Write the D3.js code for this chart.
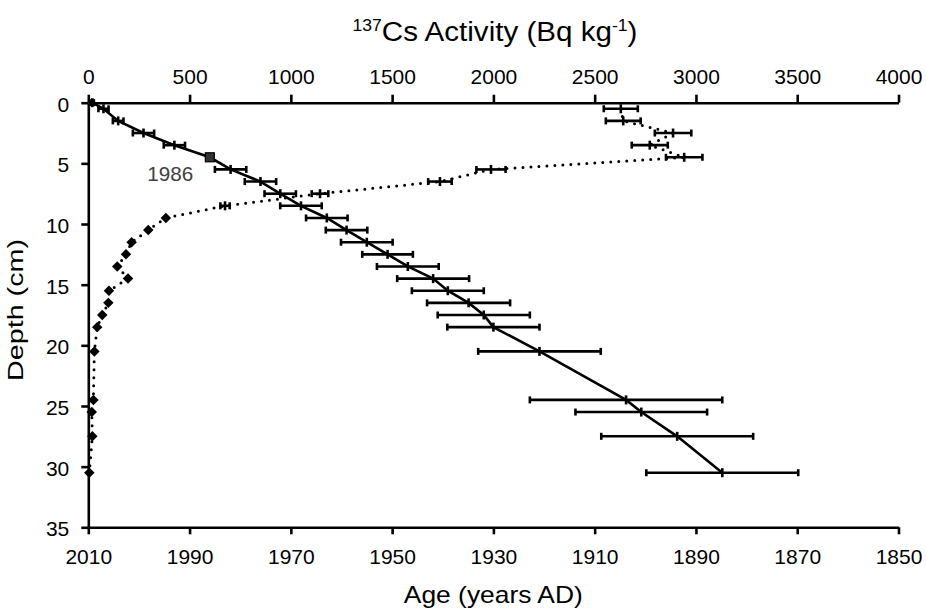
<!DOCTYPE html>
<html>
<head>
<meta charset="utf-8">
<script src="https://cdn.jsdelivr.net/npm/d3@7"></script>
<style>
  html, body { margin: 0; padding: 0; background: #fff; }
  svg { display: block; font-family: "Liberation Sans", Arial, sans-serif; }
</style>
</head>
<body>
<svg id="chart" width="926" height="609"></svg>
<script>
// ---- Data ----
const ageDepths = [0, 0.5, 1.5, 2.5, 3.5, 4.5, 5.5, 6.5, 7.5, 8.5, 9.5, 10.5, 11.5, 12.5, 13.5, 14.5, 15.5, 16.5, 17.5, 18.5, 20.5, 24.5, 25.5, 27.5, 30.5];
const ageYears  = [2009.2, 2007.0, 2004.1, 1999.1, 1993.0, 1986.0, 1981.9, 1976.0, 1972.1, 1968.0, 1962.9, 1959.0, 1955.0, 1950.9, 1946.9, 1941.9, 1939.0, 1934.9, 1931.9, 1930.0, 1920.9, 1903.8, 1900.8, 1893.7, 1884.8];
const ageErrors = [0.3, 1.0, 1.05, 2.1, 2.1, 0, 3.1, 3.1, 3.1, 4.1, 4.1, 4.1, 5.1, 5.0, 6.1, 7.1, 7.1, 8.2, 9.1, 9.1, 12.1, 19.0, 13.0, 15.0, 15.0];

const csDepths   = [0.5, 1.5, 2.5, 3.5, 4.5, 5.5, 6.5, 7.5, 8.5, 9.5, 10.5, 11.5, 12.5, 13.5, 14.5, 15.5, 16.5, 17.5, 18.5, 20.5, 24.5, 25.5, 27.5, 30.5];
const csActivity = [2629, 2641, 2887, 2772, 2942, 1988, 1736, 1144, 675, 383, 296, 214, 186, 143, 196, 102, 99, 69, 44, 30, 25, 17, 20, 5];
const csErrors   = [84, 86, 90, 89, 90, 72, 58, 41, 23, 0, 0, 0, 0, 0, 0, 0, 0, 0, 0, 0, 0, 0, 0, 0];

const markerYear = 1986, markerDepth = 4.5, markerLabel = "1986";

const depthTicks = [0, 5, 10, 15, 20, 25, 30, 35];
const csTicks = [0, 500, 1000, 1500, 2000, 2500, 3000, 3500, 4000];
const yearTicks = [2010, 1990, 1970, 1950, 1930, 1910, 1890, 1870, 1850];

// ---- Layout ----
const svg = d3.select("#chart");
svg.append("rect").attr("width", 926).attr("height", 609).attr("fill", "#fff");
const L = 88.3, R = 898.5, T = 102.7, B = 527.3;

const y = d3.scaleLinear().domain([0, 35]).range([T, B]);
const xCs = d3.scaleLinear().domain([0, 4000]).range([L, R]);
const xAge = d3.scaleLinear().domain([2010, 1850]).range([L, R]);

const AX = 2.6;
const fmt = d3.format("d");

function styleAxis(g) {
  g.select(".domain").attr("stroke", "#000").attr("stroke-width", AX);
  g.selectAll(".tick line").attr("stroke", "#000").attr("stroke-width", AX);
  g.selectAll(".tick text").attr("fill", "#000").attr("font-size", 21)
    .attr("font-family", "'Liberation Sans', Arial, sans-serif");
}

// left axis (depth)
const gL = svg.append("g").attr("transform", `translate(${L},0)`)
  .call(d3.axisLeft(y).tickValues(depthTicks).tickFormat(fmt).tickSize(7).tickSizeOuter(0).tickPadding(12));
styleAxis(gL);
gL.selectAll(".tick text").attr("dy", "0.4em");

// top axis (Cs activity)
const gT = svg.append("g").attr("transform", `translate(0,${T})`)
  .call(d3.axisTop(xCs).tickValues(csTicks).tickFormat(fmt).tickSize(8).tickSizeOuter(0).tickPadding(11));
styleAxis(gT);

// bottom axis (Age)
const gB = svg.append("g").attr("transform", `translate(0,${B})`)
  .call(d3.axisBottom(xAge).tickValues(yearTicks).tickFormat(fmt).tickSize(7).tickSizeOuter(0).tickPadding(11));
styleAxis(gB);
gB.selectAll(".tick text").attr("dy", "0.9em");

// ---- Cs series: dotted line ----
const cs = csDepths.map((d, i) => ({ d, v: csActivity[i], e: csErrors[i] }));
svg.append("path")
  .datum(cs)
  .attr("fill", "none")
  .attr("stroke", "#000")
  .attr("stroke-width", 3)
  .attr("stroke-linecap", "round")
  .attr("stroke-dasharray", "0,8")
  .attr("d", d3.line().x(p => xCs(p.v)).y(p => y(p.d)));

// Cs error bars
const csErrG = svg.append("g").attr("stroke", "#000").attr("stroke-width", 2.6);
cs.filter(p => p.e > 0).forEach(p => {
  const yy = y(p.d), x0 = xCs(p.v - p.e), x1 = xCs(p.v + p.e);
  csErrG.append("line").attr("x1", x0).attr("x2", x1).attr("y1", yy).attr("y2", yy);
  csErrG.append("line").attr("x1", x0).attr("x2", x0).attr("y1", yy - 3.5).attr("y2", yy + 3.5);
  csErrG.append("line").attr("x1", x1).attr("x2", x1).attr("y1", yy - 3.5).attr("y2", yy + 3.5);
  csErrG.append("line").attr("x1", xCs(p.v)).attr("x2", xCs(p.v)).attr("y1", yy - 4.5).attr("y2", yy + 4.5);
});
// Cs diamonds
svg.append("g").selectAll("path").data(cs.filter(p => p.e === 0)).join("path")
  .attr("transform", p => `translate(${xCs(p.v)},${y(p.d)})`)
  .attr("d", d3.symbol().type(d3.symbolDiamond2).size(70))
  .attr("fill", "#000");

// ---- Age series: solid line ----
const age = ageDepths.map((d, i) => ({ d, yr: ageYears[i], e: ageErrors[i] }));
svg.append("path")
  .datum(age)
  .attr("fill", "none")
  .attr("stroke", "#000")
  .attr("stroke-width", 2.6)
  .attr("d", d3.line().x(p => xAge(p.yr)).y(p => y(p.d)));

const ageErrG = svg.append("g").attr("stroke", "#000").attr("stroke-width", 2.6);
age.forEach(p => {
  const yy = y(p.d), xc = xAge(p.yr);
  if (p.e > 0) {
    const x0 = xAge(p.yr - p.e), x1 = xAge(p.yr + p.e);
    ageErrG.append("line").attr("x1", x0).attr("x2", x1).attr("y1", yy).attr("y2", yy);
    ageErrG.append("line").attr("x1", x0).attr("x2", x0).attr("y1", yy - 3.5).attr("y2", yy + 3.5);
    ageErrG.append("line").attr("x1", x1).attr("x2", x1).attr("y1", yy - 3.5).attr("y2", yy + 3.5);
  }
  ageErrG.append("line").attr("x1", xc).attr("x2", xc).attr("y1", yy - 4.5).attr("y2", yy + 4.5);
});

// 1986 marker
svg.append("rect")
  .attr("x", xAge(markerYear) - 4.5).attr("y", y(markerDepth) - 4.5)
  .attr("width", 9).attr("height", 9)
  .attr("fill", "#333").attr("stroke", "#000").attr("stroke-width", 1.2);
svg.append("text")
  .attr("x", 147.3).attr("y", 181)
  .attr("font-size", 21).attr("fill", "#404040")
  .attr("textLength", 46).attr("lengthAdjust", "spacingAndGlyphs")
  .text(markerLabel);

// ---- Titles ----
const title = svg.append("text")
  .attr("x", 495).attr("y", 40.5)
  .attr("text-anchor", "middle")
  .attr("font-size", 27).attr("fill", "#000")
  .attr("textLength", 285).attr("lengthAdjust", "spacingAndGlyphs");
title.append("tspan").attr("font-size", 16).attr("dy", -10).text("137");
title.append("tspan").attr("dy", 10).text("Cs Activity (Bq kg");
title.append("tspan").attr("font-size", 16).attr("dy", -10).text("-1");
title.append("tspan").attr("dy", 10).text(")");

svg.append("text")
  .attr("x", 493.3).attr("y", 602.5)
  .attr("text-anchor", "middle")
  .attr("font-size", 24).attr("fill", "#000")
  .attr("textLength", 179).attr("lengthAdjust", "spacingAndGlyphs")
  .text("Age (years AD)");

svg.append("text")
  .attr("transform", "translate(23,310) rotate(-90)")
  .attr("text-anchor", "middle")
  .attr("font-size", 22).attr("fill", "#000")
  .attr("textLength", 142).attr("lengthAdjust", "spacingAndGlyphs")
  .text("Depth (cm)");
</script>
</body>
</html>
